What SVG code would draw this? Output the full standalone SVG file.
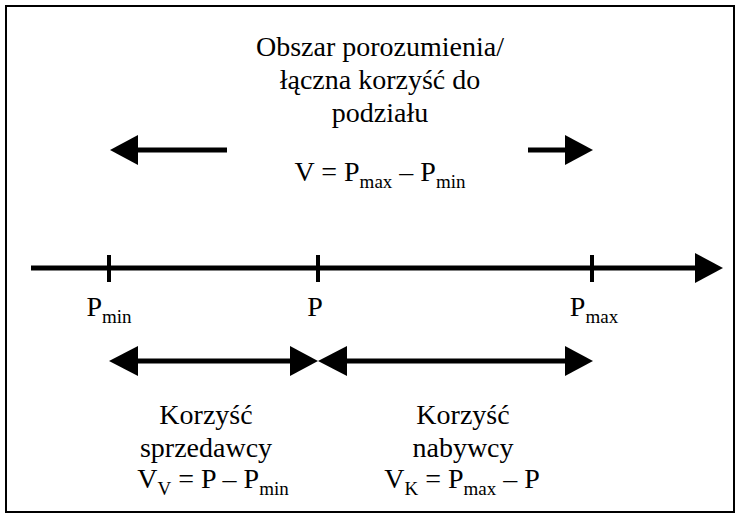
<svg xmlns="http://www.w3.org/2000/svg" width="741" height="519" viewBox="0 0 741 519">
<style>
text{font-family:"Liberation Serif","Times New Roman",serif;font-size:28px;fill:#000;text-anchor:middle}
.sub{font-size:19px}
.ln{stroke:#000;stroke-width:5;fill:none}
.tk{stroke:#000;stroke-width:4}
.hd{fill:#000}
</style>
<rect x="6" y="6" width="728" height="506" fill="#fff" stroke="#000" stroke-width="2"/>
<g id="connectors">
<line class="ln" x1="31" y1="268" x2="697" y2="268"/>
<polygon class="hd" points="695,253 723,268 695,283"/>
<line class="ln" x1="136" y1="150" x2="227" y2="150"/>
<polygon class="hd" points="138,135 110,150 138,165"/>
<line class="ln" x1="528" y1="150" x2="567" y2="150"/>
<polygon class="hd" points="565,135 593,150 565,165"/>
<line class="ln" x1="136" y1="361" x2="292" y2="361"/>
<polygon class="hd" points="138,346 109,361 138,376"/>
<polygon class="hd" points="290,346 318,361 290,376"/>
<line class="ln" x1="345" y1="361" x2="567" y2="361"/>
<polygon class="hd" points="347,346 318,361 347,376"/>
<polygon class="hd" points="565,346 593,361 565,376"/>
</g>
<g id="ticks">
<line class="tk" x1="109" y1="255" x2="109" y2="282"/>
<line class="tk" x1="318" y1="255" x2="318" y2="282"/>
<line class="tk" x1="592" y1="255" x2="592" y2="282"/>
</g>
<g id="title">
<text x="380" y="56">Obszar porozumienia/</text>
<text x="380" y="89">łączna korzyść do</text>
<text x="380" y="122">podziału</text>
<text x="380" y="181">V = P<tspan class="sub" dy="7">max</tspan><tspan dy="-7"> – P</tspan><tspan class="sub" dy="7">min</tspan></text>
</g>
<g id="pmin"><text x="109" y="316">P<tspan class="sub" dy="7">min</tspan></text></g>
<g id="p"><text x="315" y="316">P</text></g>
<g id="pmax"><text x="594" y="316">P<tspan class="sub" dy="7">max</tspan></text></g>
<g id="seller">
<text x="206" y="424">Korzyść</text>
<text x="206" y="457">sprzedawcy</text>
<text x="213" y="488">V<tspan class="sub" dy="7">V</tspan><tspan dy="-7"> = P – P</tspan><tspan class="sub" dy="7">min</tspan></text>
</g>
<g id="buyer">
<text x="463" y="424">Korzyść</text>
<text x="463" y="457">nabywcy</text>
<text x="462" y="488">V<tspan class="sub" dy="7">K</tspan><tspan dy="-7"> = P</tspan><tspan class="sub" dy="7">max</tspan><tspan dy="-7"> – P</tspan></text>
</g>
</svg>
